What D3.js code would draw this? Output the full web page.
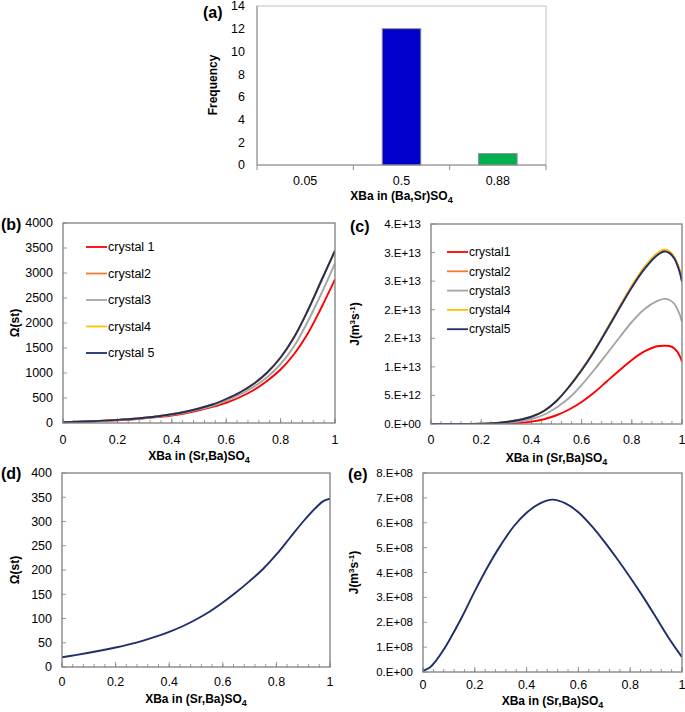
<!DOCTYPE html>
<html>
<head>
<meta charset="utf-8">
<script src="https://cdn.jsdelivr.net/npm/d3@7"></script>
<style>
  body { margin: 0; background: #fff; }
  svg { font-family: "Liberation Sans", Arial, sans-serif; }
</style>
</head>
<body>
<svg id="fig" width="685" height="712"></svg>
<script>
// ---- data ----
// (a) frequency of XBa
const catsA = ["0.05", "0.5", "0.88"];
const freqA = [0, 12, 1];
const colorsA = ["#0000CC", "#0000CC", "#00B050"];
const ticksA = [0, 2, 4, 6, 8, 10, 12, 14];

// (b) Ω(st) for each crystal
const xB = [0, 0.05, 0.1, 0.15, 0.2, 0.25, 0.3, 0.35, 0.4, 0.45, 0.5, 0.55, 0.6, 0.65, 0.7, 0.75, 0.8, 0.85, 0.9, 0.95, 1];
const omegaB1 = [15, 21, 30, 41, 54, 70, 92, 118, 150, 195, 252, 322, 405, 515, 655, 840, 1070, 1380, 1790, 2310, 2873];
const omegaB2 = [18, 25, 35, 47, 62, 80, 105, 135, 175, 225, 290, 370, 480, 610, 780, 1005, 1310, 1720, 2250, 2850, 3446];
const omegaB3 = [17, 23, 33, 44, 58, 76, 98, 127, 162, 210, 272, 345, 445, 565, 720, 915, 1180, 1540, 2030, 2590, 3193];
const omegaB4 = [18, 25, 35, 47, 62, 80, 105, 135, 175, 225, 290, 370, 480, 610, 780, 1005, 1310, 1720, 2250, 2850, 3446];
const omegaB5 = [18, 25, 35, 47, 62, 80, 105, 135, 175, 225, 290, 370, 480, 610, 780, 1005, 1310, 1720, 2250, 2850, 3446];
const ticksB = [0, 500, 1000, 1500, 2000, 2500, 3000, 3500, 4000];

// (c) J for each crystal
const xC = [0, 0.05, 0.1, 0.15, 0.2, 0.25, 0.3, 0.35, 0.4, 0.45, 0.5, 0.55, 0.6, 0.65, 0.7, 0.75, 0.8, 0.85, 0.9, 0.93, 0.95, 0.97, 0.99, 1];
const jC1 = [0, 0, 0, 0, 8.75e9, 3.5e10, 8.75e10, 2e11, 4.2e11, 8.3e11, 1.53e12, 2.54e12, 3.85e12, 5.51e12, 7.44e12, 9.36e12, 1.12e13, 1.27e13, 1.36e13, 1.37e13, 1.365e13, 1.32e13, 1.2e13, 1.09e13];
const jC2 = [0, 0, 0, 8.75e9, 4.4e10, 1.3e11, 3.5e11, 7e11, 1.28e12, 2.29e12, 4.05e12, 6.54e12, 9.47e12, 1.28e13, 1.655e13, 2.04e13, 2.415e13, 2.74e13, 2.98e13, 3.05e13, 3.02e13, 2.91e13, 2.7e13, 2.51e13];
const jC3 = [0, 0, 0, 8.75e9, 2.6e10, 8.75e10, 2.2e11, 4.4e11, 8.75e11, 1.62e12, 2.89e12, 4.55e12, 6.83e12, 9.45e12, 1.225e13, 1.51e13, 1.785e13, 2.01e13, 2.15e13, 2.19e13, 2.17e13, 2.1e13, 1.925e13, 1.79e13];
const jC4 = [0, 0, 0, 8.75e9, 4.4e10, 1.3e11, 3.5e11, 7e11, 1.28e12, 2.29e12, 4.05e12, 6.54e12, 9.47e12, 1.28e13, 1.655e13, 2.04e13, 2.415e13, 2.74e13, 2.98e13, 3.05e13, 3.02e13, 2.91e13, 2.7e13, 2.51e13];
const jC5 = [0, 0, 0, 8.75e9, 4.4e10, 1.3e11, 3.5e11, 7e11, 1.27e12, 2.28e12, 4.03e12, 6.5e12, 9.4e12, 1.27e13, 1.64e13, 2.02e13, 2.39e13, 2.71e13, 2.95e13, 3.02e13, 2.99e13, 2.89e13, 2.67e13, 2.49e13];
const ticksC = [0, 5e12, 1e13, 1.5e13, 2e13, 2.5e13, 3e13, 3.5e13];
const tickLabelsC = ["0.E+00", "5.E+12", "1.E+13", "2.E+13", "2.E+13", "3.E+13", "3.E+13", "4.E+13"];

// (d) Ω(st)
const xD = [0, 0.05, 0.1, 0.15, 0.2, 0.25, 0.3, 0.35, 0.4, 0.45, 0.5, 0.55, 0.6, 0.65, 0.7, 0.75, 0.8, 0.85, 0.9, 0.95, 0.975, 1];
const omegaD = [20, 24.5, 29.3, 34.5, 40.2, 46.7, 54, 62.5, 72.5, 84, 98, 114, 133, 154, 177, 202, 232, 266, 300, 330, 342, 347];
const ticksD = [0, 50, 100, 150, 200, 250, 300, 350, 400];

// (e) J
const xE = [0, 0.025, 0.05, 0.075, 0.1, 0.15, 0.2, 0.25, 0.3, 0.35, 0.4, 0.45, 0.5, 0.55, 0.6, 0.65, 0.7, 0.75, 0.8, 0.85, 0.9, 0.95, 1];
const jE = [0.05e8, 0.17e8, 0.45e8, 0.82e8, 1.25e8, 2.2e8, 3.25e8, 4.23e8, 5.1e8, 5.85e8, 6.4e8, 6.77e8, 6.93e8, 6.78e8, 6.42e8, 5.88e8, 5.24e8, 4.54e8, 3.8e8, 3.02e8, 2.19e8, 1.35e8, 0.6e8];
const ticksE = [0, 1e8, 2e8, 3e8, 4e8, 5e8, 6e8, 7e8, 8e8];
const tickLabelsE = ["0.E+00", "1.E+08", "2.E+08", "3.E+08", "4.E+08", "5.E+08", "6.E+08", "7.E+08", "8.E+08"];

const xTicks = [0, 0.2, 0.4, 0.6, 0.8, 1];
const xTickLabels = ["0", "0.2", "0.4", "0.6", "0.8", "1"];

const crystalColors = ["#FF0000", "#ED7D31", "#A5A5A5", "#FFC000", "#1F2D6B"];

const svg = d3.select("#fig");

// x axis title with subscript 4
function xTitle(g, x, y, text) {
  const t = g.append("text").attr("x", x).attr("y", y)
    .attr("text-anchor", "middle").attr("font-weight", "bold").attr("font-size", "12px");
  t.append("tspan").text(text);
  t.append("tspan").attr("font-size", "9px").attr("dy", 3).text("4");
}

function panelLetter(x, y, s) {
  svg.append("text").attr("x", x).attr("y", y)
    .attr("font-weight", "bold").attr("font-size", "16px").text(s);
}

// ---- (a) bar chart ----
{
  const L = 257, R = 546, T = 6, B = 165;
  const x = d3.scaleBand().domain(catsA).range([L, R]).paddingInner(0.6).paddingOuter(0.3);
  const y = d3.scaleLinear().domain([0, 14]).range([B, T]);
  const g = svg.append("g");

  g.append("rect").attr("x", L).attr("y", T).attr("width", R - L).attr("height", B - T)
    .attr("fill", "none").attr("stroke", "#C0C0C0");

  g.selectAll("rect.bar").data(freqA).enter().append("rect")
    .attr("class", "bar")
    .attr("x", (d, i) => x(catsA[i]))
    .attr("y", d => y(d))
    .attr("width", x.bandwidth())
    .attr("height", d => B - y(d))
    .attr("fill", (d, i) => colorsA[i])
    .attr("stroke", "#8C8C8C").attr("stroke-width", 1);

  // axis lines
  g.append("line").attr("x1", L).attr("x2", L).attr("y1", T).attr("y2", B).attr("stroke", "#8C8C8C");
  g.append("line").attr("x1", L).attr("x2", R).attr("y1", B).attr("y2", B).attr("stroke", "#8C8C8C");
  const step = x.step();
  [0, 1, 2, 3].forEach(i => {
    const xx = L + i * step;
    g.append("line").attr("x1", xx).attr("x2", xx).attr("y1", B).attr("y2", B + 5).attr("stroke", "#8C8C8C");
  });

  g.selectAll("text.yt").data(ticksA).enter().append("text")
    .attr("x", L - 12).attr("y", d => y(d)).attr("dy", "0.35em")
    .attr("text-anchor", "end").attr("font-size", "12.5px").text(d => d);

  g.selectAll("text.xt").data(catsA).enter().append("text")
    .attr("x", d => x(d) + x.bandwidth() / 2).attr("y", 185)
    .attr("text-anchor", "middle").attr("font-size", "12.5px").text(d => d);

  g.append("text").attr("transform", "translate(217,85) rotate(-90)")
    .attr("text-anchor", "middle").attr("font-weight", "bold").attr("font-size", "12px").text("Frequency");

  xTitle(g, (L + R) / 2, 200, "XBa in (Ba,Sr)SO");
  panelLetter(203, 18, "(a)");
}

// ---- line panels ----
function linePanel(o) {
  const { L, R, T, B } = o;
  const x = d3.scaleLinear().domain([0, 1]).range([L, R]);
  const y = d3.scaleLinear().domain([o.yTicks[0], o.yTicks[o.yTicks.length - 1]]).range([B, T]);
  const g = svg.append("g");
  const clipId = "clip" + o.id;
  g.append("clipPath").attr("id", clipId).append("rect")
    .attr("x", L).attr("y", T - 2).attr("width", R - L).attr("height", B - T + 2);

  // minor + major x ticks (inside)
  const minor = d3.range(0, 1.0001, 0.04);
  g.selectAll("line.mx").data(minor).enter().append("line")
    .attr("x1", d => x(d)).attr("x2", d => x(d))
    .attr("y1", B).attr("y2", B - 3).attr("stroke", "#7F7F7F").attr("stroke-width", 0.8);
  g.selectAll("line.Mx").data(xTicks).enter().append("line")
    .attr("x1", d => x(d)).attr("x2", d => x(d))
    .attr("y1", B).attr("y2", B - 5).attr("stroke", "#7F7F7F").attr("stroke-width", 0.8);
  g.selectAll("line.My").data(o.yTicks).enter().append("line")
    .attr("x1", L).attr("x2", L + 4)
    .attr("y1", d => y(d)).attr("y2", d => y(d)).attr("stroke", "#7F7F7F").attr("stroke-width", 0.8);

  const line = d3.line().curve(d3.curveCatmullRom.alpha(0.5));
  const lg = g.append("g").attr("clip-path", `url(#${clipId})`);
  o.series.forEach(s => {
    lg.append("path")
      .attr("d", line(s.x.map((v, i) => [x(v), y(s.y[i])])))
      .attr("fill", "none").attr("stroke", s.color).attr("stroke-width", 1.9);
  });

  g.append("rect").attr("x", L).attr("y", T).attr("width", R - L).attr("height", B - T)
    .attr("fill", "none").attr("stroke", "#7F7F7F").attr("stroke-width", 1.3);

  g.selectAll("text.yt").data(o.yTicks).enter().append("text")
    .attr("x", L - 10).attr("y", d => y(d)).attr("dy", "0.35em")
    .attr("text-anchor", "end").attr("font-size", o.tickSize)
    .text((d, i) => o.yLabels ? o.yLabels[i] : d);

  g.selectAll("text.xt").data(xTicks).enter().append("text")
    .attr("x", d => x(d)).attr("y", o.xLabelY)
    .attr("text-anchor", "middle").attr("font-size", "12.5px")
    .text((d, i) => xTickLabels[i]);

  xTitle(g, (L + R) / 2, o.xTitleY, "XBa in (Sr,Ba)SO");

  // y title
  const yt = g.append("text").attr("transform", `translate(${o.yTitleX},${(T + B) / 2}) rotate(-90)`)
    .attr("text-anchor", "middle").attr("font-weight", "bold").attr("font-size", "12px");
  if (o.yTitle === "omega") {
    yt.text("Ω(st)");
  } else {
    yt.append("tspan").text("J(m");
    yt.append("tspan").attr("font-size", "8px").attr("dy", -4).text("3");
    yt.append("tspan").attr("dy", 4).text("s");
    yt.append("tspan").attr("font-size", "8px").attr("dy", -4).text("-1");
    yt.append("tspan").attr("dy", 4).text(")");
  }

  if (o.legend) {
    const lgd = o.legend;
    o.series.forEach((s, i) => {
      const yy = lgd.y0 + i * lgd.dy;
      g.append("line").attr("x1", lgd.x).attr("x2", lgd.x + 21)
        .attr("y1", yy).attr("y2", yy).attr("stroke", s.color).attr("stroke-width", 1.8);
      g.append("text").attr("x", lgd.x + 22).attr("y", yy).attr("dy", "0.35em")
        .attr("font-size", lgd.size).text(s.name);
    });
  }
}

linePanel({
  id: "b", L: 63, R: 335, T: 223, B: 423,
  yTicks: ticksB, tickSize: "12.5px", xLabelY: 444, xTitleY: 460, yTitleX: 19, yTitle: "omega",
  series: [
    { x: xB, y: omegaB1, color: crystalColors[0], name: "crystal 1" },
    { x: xB, y: omegaB2, color: crystalColors[1], name: "crystal2" },
    { x: xB, y: omegaB3, color: crystalColors[2], name: "crystal3" },
    { x: xB, y: omegaB4, color: crystalColors[3], name: "crystal4" },
    { x: xB, y: omegaB5, color: crystalColors[4], name: "crystal 5" }
  ],
  legend: { x: 86, y0: 247, dy: 26.5, size: "12.5px" }
});

linePanel({
  id: "c", L: 431, R: 682, T: 224, B: 424,
  yTicks: ticksC, yLabels: tickLabelsC, tickSize: "11.5px", xLabelY: 444, xTitleY: 462, yTitleX: 359, yTitle: "J",
  series: [
    { x: xC, y: jC1, color: crystalColors[0], name: "crystal1" },
    { x: xC, y: jC2, color: crystalColors[1], name: "crystal2" },
    { x: xC, y: jC3, color: crystalColors[2], name: "crystal3" },
    { x: xC, y: jC4, color: crystalColors[3], name: "crystal4" },
    { x: xC, y: jC5, color: crystalColors[4], name: "crystal5" }
  ],
  legend: { x: 447, y0: 252, dy: 19.3, size: "12px" }
});

linePanel({
  id: "d", L: 62, R: 330, T: 473, B: 667,
  yTicks: ticksD, tickSize: "12.5px", xLabelY: 686, xTitleY: 703, yTitleX: 19, yTitle: "omega",
  series: [{ x: xD, y: omegaD, color: crystalColors[4] }]
});

linePanel({
  id: "e", L: 423, R: 682, T: 473, B: 672,
  yTicks: ticksE, yLabels: tickLabelsE, tickSize: "11.5px", xLabelY: 689, xTitleY: 705, yTitleX: 358, yTitle: "J",
  series: [{ x: xE, y: jE, color: crystalColors[4] }]
});

panelLetter(1, 230, "(b)");
panelLetter(350, 232, "(c)");
panelLetter(1, 479, "(d)");
panelLetter(348, 480, "(e)");
</script>
</body>
</html>
